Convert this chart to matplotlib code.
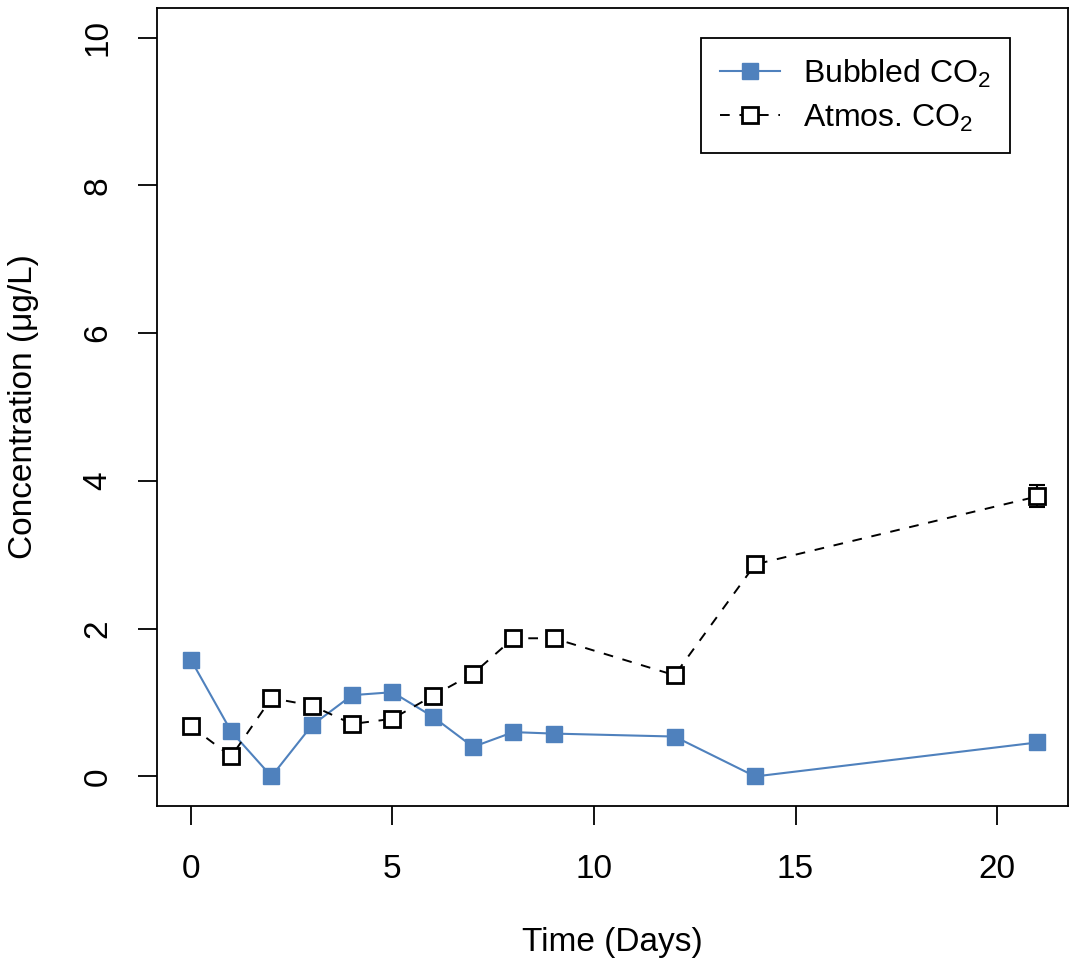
import numpy as np
import matplotlib
matplotlib.use("Agg")
import matplotlib.pyplot as plt

# Fonts: Arial-like look
plt.rcParams['font.family'] = ['Liberation Sans', 'DejaVu Sans']
plt.rcParams['mathtext.fontset'] = 'custom'
plt.rcParams['mathtext.rm'] = 'Liberation Sans'

# Data
days = [0, 1, 2, 3, 4, 5, 6, 7, 8, 9, 12, 14, 21]
bubbled = [1.58, 0.61, 0.0, 0.69, 1.10, 1.14, 0.81, 0.40, 0.60, 0.58, 0.54, 0.0, 0.46]
atmos = [0.68, 0.27, 1.06, 0.96, 0.71, 0.78, 1.09, 1.39, 1.87, 1.87, 1.37, 2.87, 3.79]
atmos_err = [0, 0, 0, 0, 0, 0, 0, 0, 0, 0, 0, 0.05, 0.15]

xticks = [0, 5, 10, 15, 20]
yticks = [0, 2, 4, 6, 8, 10]

blue = "#4F81BD"

fig = plt.figure(figsize=(10.71, 9.61), dpi=100)
ax = fig.add_axes([157 / 1071, 1 - 806 / 961, (1068 - 157) / 1071, (806 - 8) / 961])

# Bubbled CO2
ax.plot(days, bubbled, color=blue, lw=1.5, marker='s', markersize=11.5,
        markerfacecolor=blue, markeredgecolor=blue, label='Bubbled CO$_\\mathregular{2}$', zorder=3)

# Atmos CO2 with error bars
ax.errorbar(days, atmos, yerr=atmos_err, fmt='none', ecolor='black', elinewidth=1.5,
            capsize=6, capthick=1.5, zorder=2)
ax.plot(days, atmos, color='black', lw=1.4, linestyle=(0, (5, 5)), marker='s', markersize=11,
        markerfacecolor='white', markeredgecolor='black', markeredgewidth=2,
        label='Atmos. CO$_\\mathregular{2}$', zorder=4)

ax.set_xlim(-0.84, 21.76)
ax.set_ylim(-0.4, 10.4)
ax.set_xticks(xticks)
ax.set_yticks(yticks)
ax.tick_params(axis='both', direction='out', length=13.5, width=1.3, labelsize=24)
ax.tick_params(axis='x', pad=21)
ax.tick_params(axis='y', pad=18)
for lab in ax.get_yticklabels():
    lab.set_rotation(90)
    lab.set_va('center')
for sp in ax.spines.values():
    sp.set_linewidth(1.3)

ax.set_xlabel('Time (Days)', fontsize=24, labelpad=30)
ax.set_ylabel('Concentration (μg/L)', fontsize=24, labelpad=31)

leg = ax.legend(loc='upper right', bbox_to_anchor=((1010 - 157) / (1068 - 157), (806 - 38) / (806 - 8)),
                fontsize=23, frameon=True, fancybox=False, framealpha=1, edgecolor='black',
                handlelength=1.9, handletextpad=0.7, borderpad=0.6, labelspacing=0.4,
                borderaxespad=0)
leg.get_frame().set_linewidth(1.3)

fig.savefig('out.png', dpi=100)
